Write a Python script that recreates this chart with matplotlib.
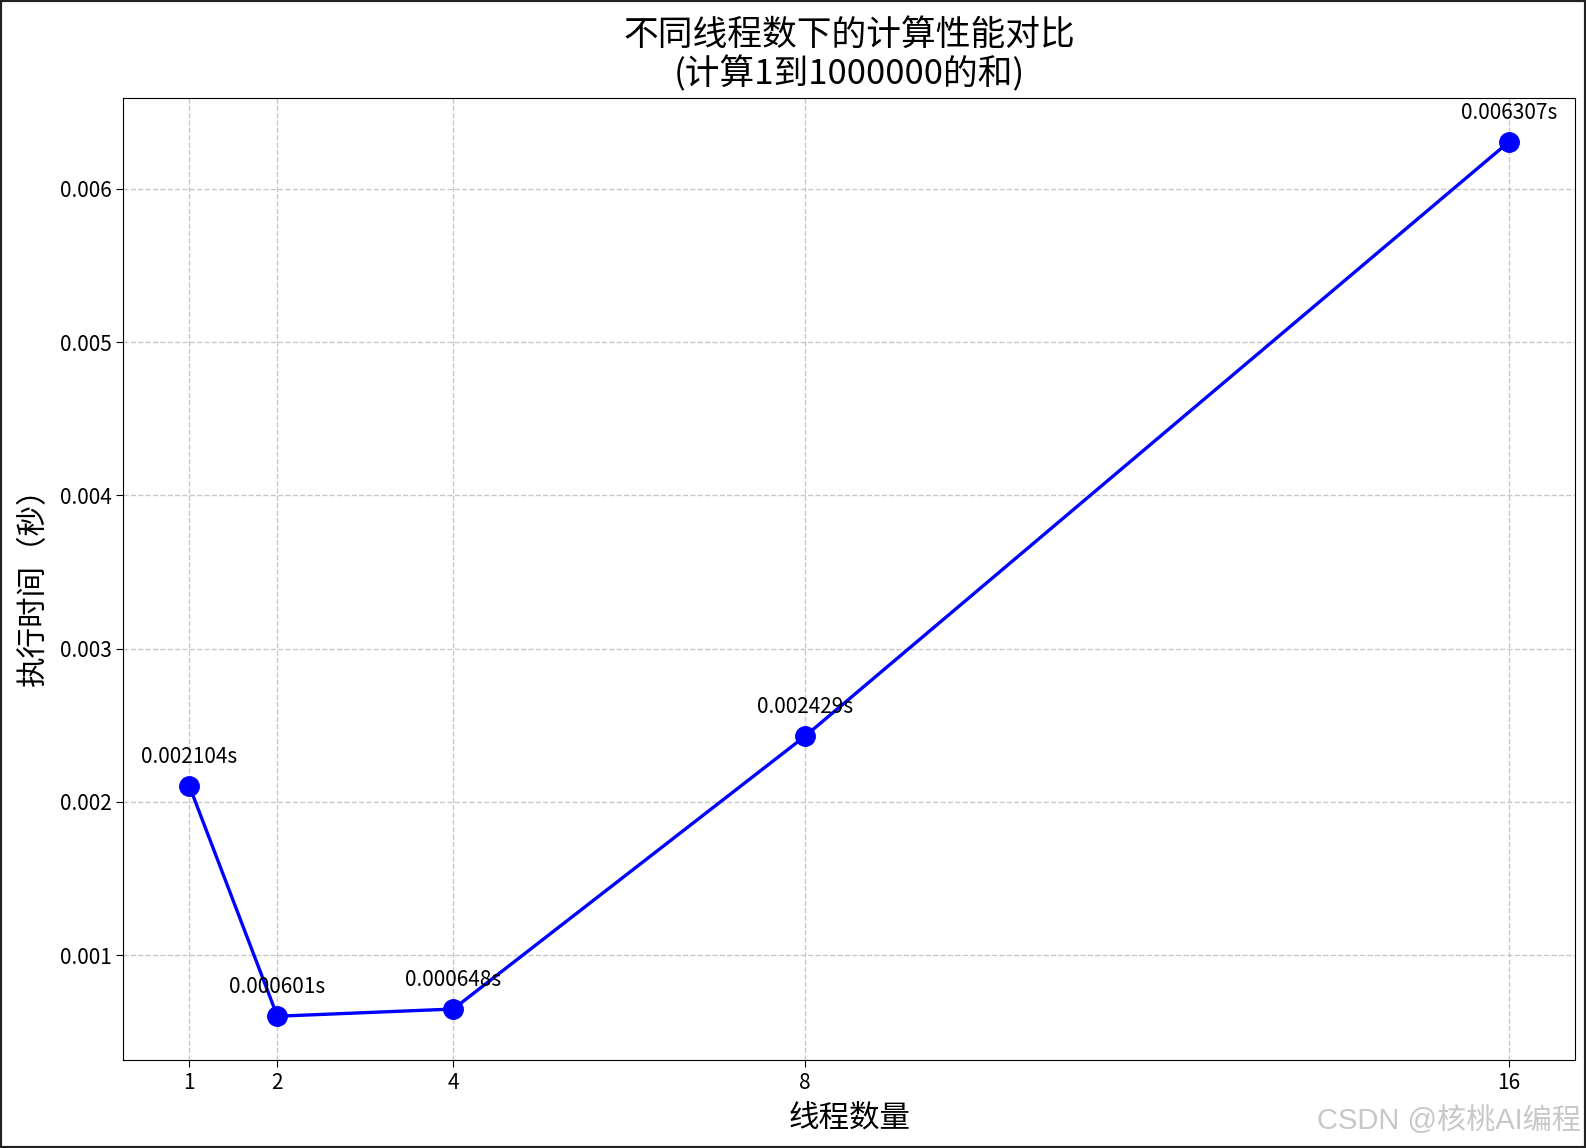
import matplotlib
matplotlib.use("Agg")
import matplotlib.pyplot as plt
from matplotlib.patches import Rectangle

plt.rcParams['font.family'] = ['Noto Sans CJK SC', 'DejaVu Sans']
plt.rcParams['axes.unicode_minus'] = False

threads = [1, 2, 4, 8, 16]
times = [0.002104, 0.000601, 0.000648, 0.002429, 0.006307]
title = "不同线程数下的计算性能对比\n(计算1到1000000的和)"
xlabel = "线程数量"
ylabel = "执行时间（秒）"
watermark = "CSDN @核桃AI编程"

fig = plt.figure(figsize=(15.86, 11.48), dpi=100)
ax = fig.add_axes([0.0778, 0.0767, 0.9152, 0.8378])

ax.plot(threads, times, color='blue', linewidth=2.4, marker='o', markersize=14)
for x, y in zip(threads, times):
    ax.annotate(f"{y:.6f}s", (x, y), textcoords='offset points', xytext=(0, 21),
                ha='center', va='center', fontsize=15)

ax.set_xticks(threads)
ax.set_xticklabels([str(t) for t in threads])
ax.tick_params(labelsize=15, length=5)
ax.grid(True, linestyle='--', color='#bbbbbb', alpha=0.8, linewidth=1)
ax.set_title(title, fontsize=25, pad=10, linespacing=1.1)
ax.set_xlabel(xlabel, fontsize=22, labelpad=6)
ax.set_ylabel(ylabel, fontsize=22, labelpad=8)

fig.text(0.997, 0.024, watermark, ha='right', va='center', fontsize=21,
         color='#c8c8c8', family=['Liberation Sans', 'Noto Sans CJK SC'])

fig.patches.append(Rectangle((0, 0), 1, 1, transform=fig.transFigure, fill=False,
                             edgecolor='#222222', linewidth=3, clip_on=False))

fig.savefig("out.png", dpi=100)
